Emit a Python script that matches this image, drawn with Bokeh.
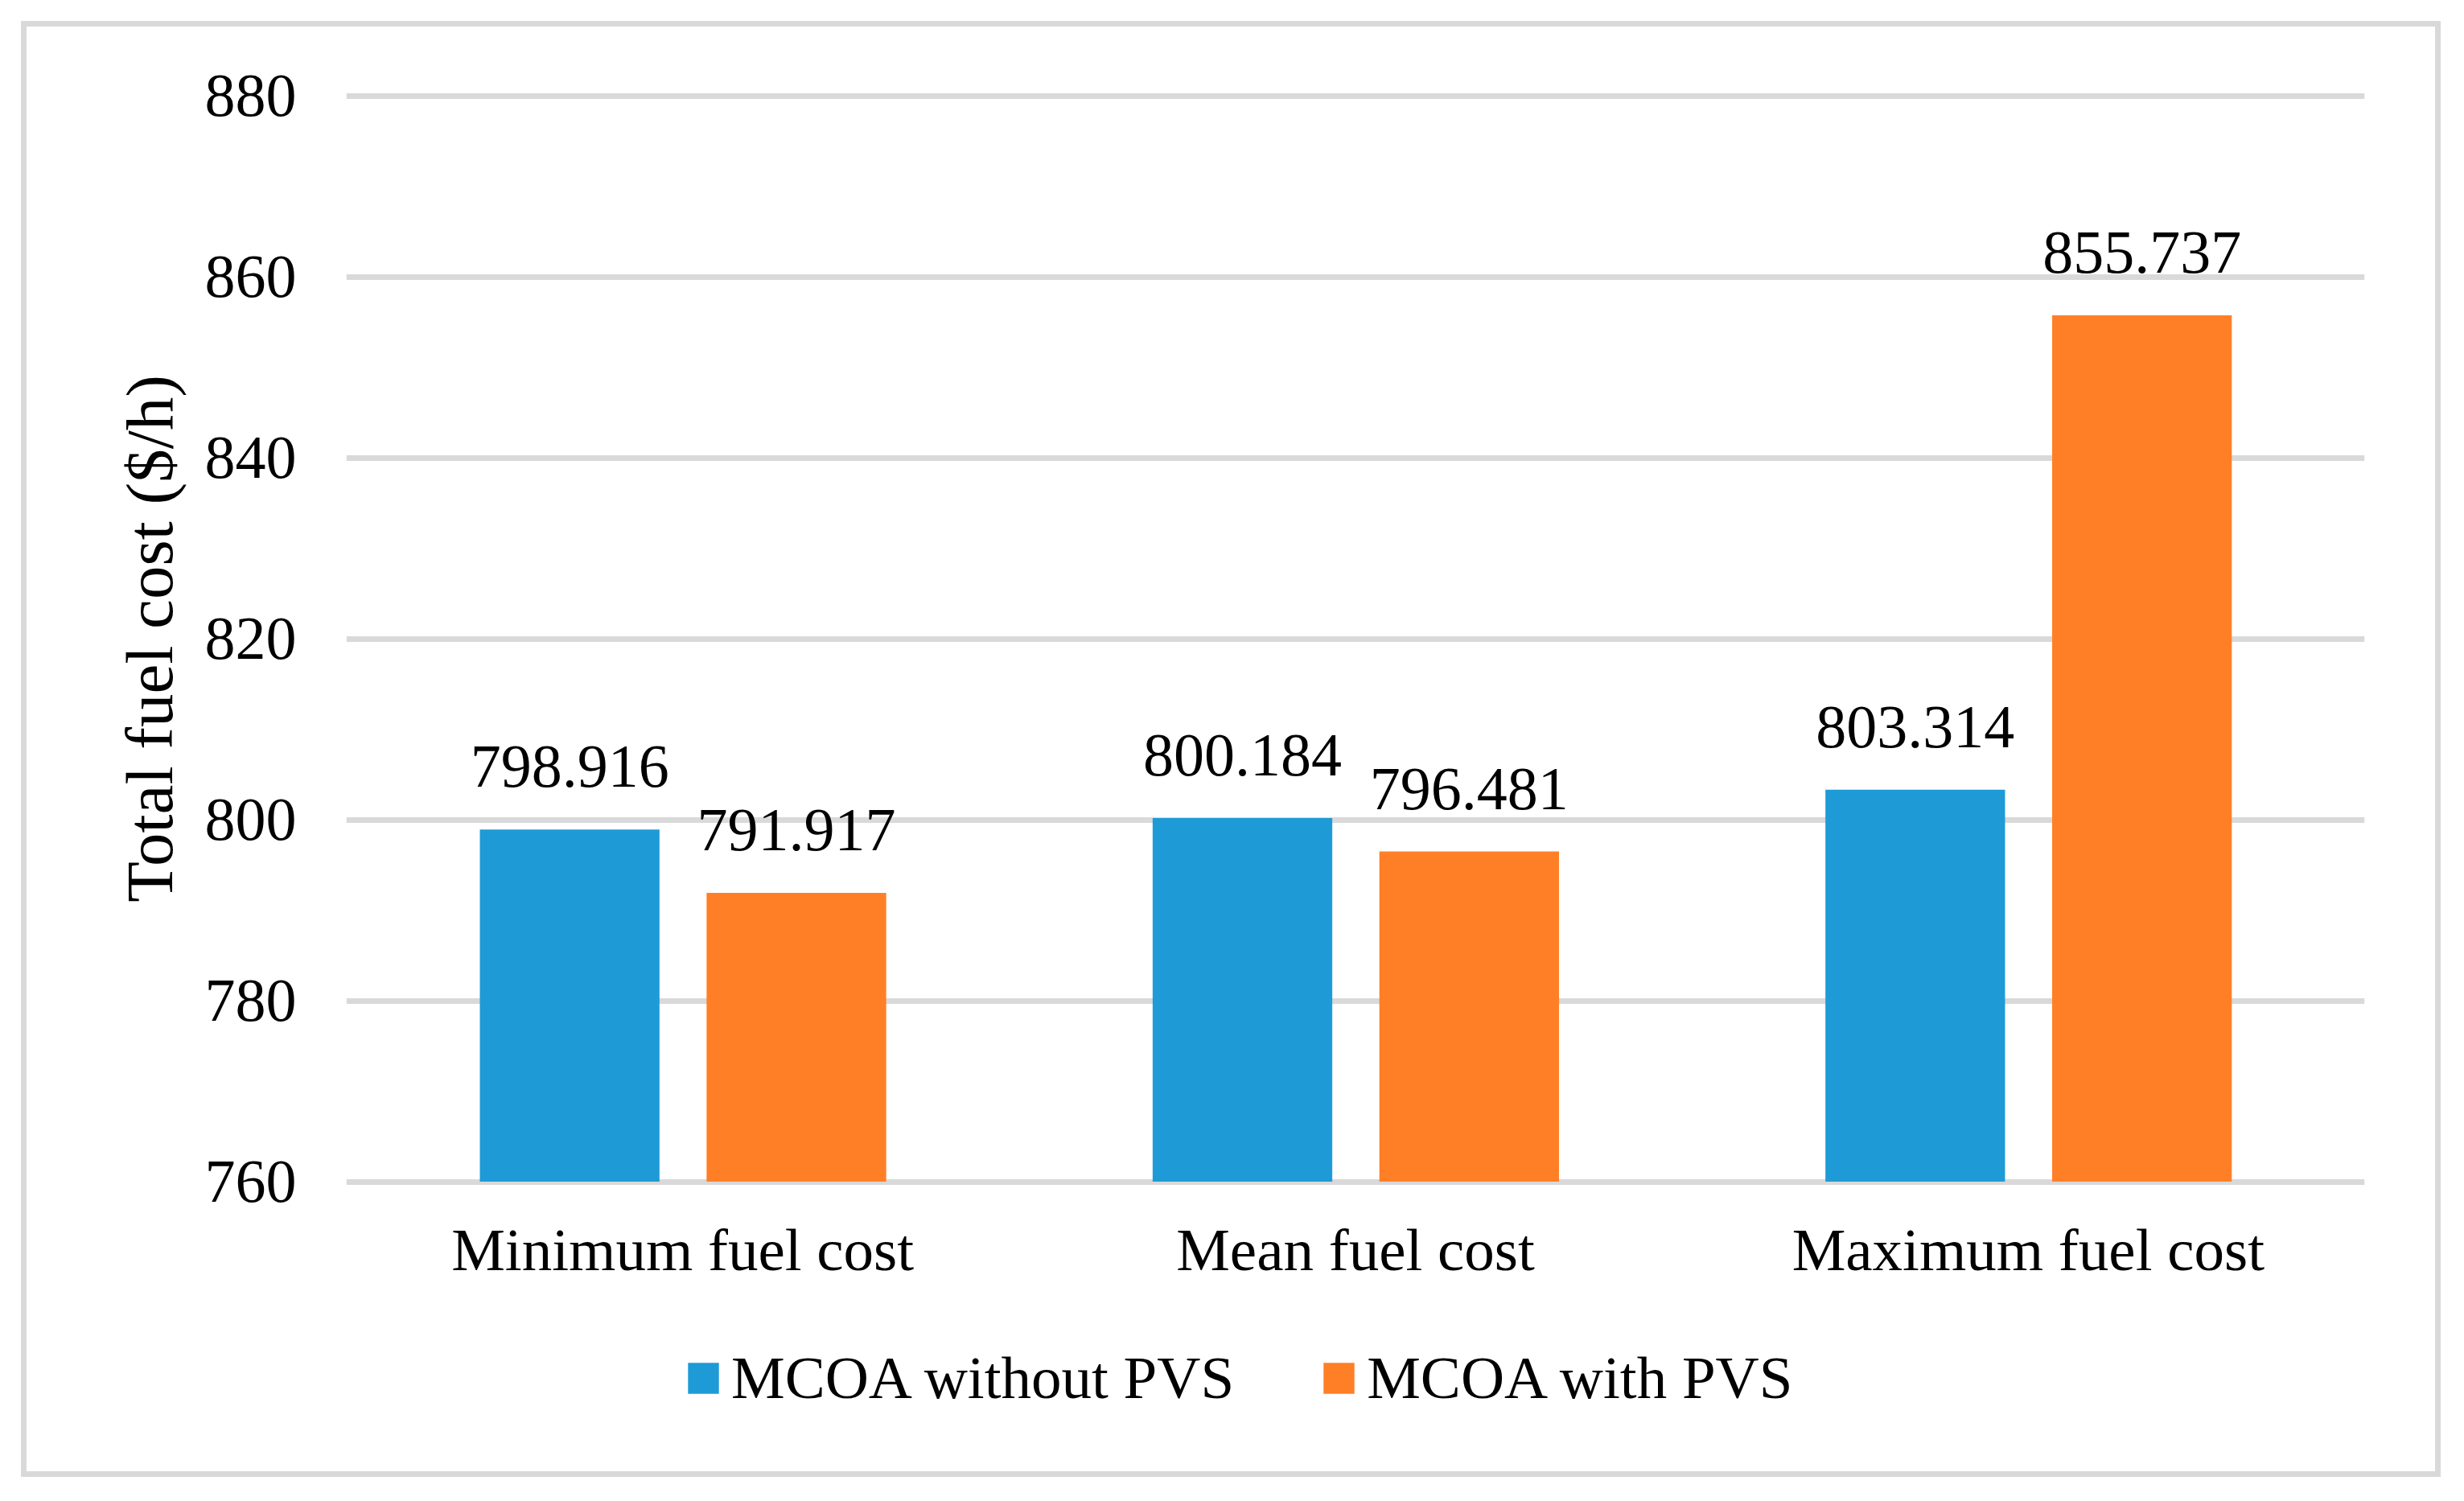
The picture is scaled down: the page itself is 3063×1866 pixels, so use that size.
from bokeh.plotting import figure
from bokeh.layouts import column
from bokeh.models import (ColumnDataSource, FactorRange, Range1d, FixedTicker,
                          Legend, LegendItem)
from bokeh.transform import dodge
from bokeh.core.properties import value
from bokeh.embed import file_html
from bokeh.resources import INLINE

categories = ["Minimum fuel cost", "Mean fuel cost", "Maximum fuel cost"]
without_pvs = [798.916, 800.184, 803.314]
with_pvs = [791.917, 796.481, 855.737]
series_names = ["MCOA without PVS", "MCOA with PVS"]
y_ticks = [760, 780, 800, 820, 840, 860, 880]

FONT = "Liberation Serif"
FS = "76px"
BLUE = "#1E9BD7"
ORANGE = "#FF7F27"
GRID = "#D9D9D9"
W = 3060

src = ColumnDataSource(dict(
    cat=categories,
    a=without_pvs,
    b=with_pvs,
    a_lbl=[f"{v:.3f}" for v in without_pvs],
    b_lbl=[f"{v:.3f}" for v in with_pvs],
))

# ---- main chart ----
p = figure(x_range=FactorRange(*categories), y_range=Range1d(759.6, 880.4),
           width=W, height=1640, output_backend="svg", toolbar_location=None,
           min_border_left=430, min_border_right=121, min_border_top=114,
           min_border_bottom=167)
p.border_fill_alpha = 0

p.vbar(x=dodge("cat", -0.168, range=p.x_range), top="a", bottom=760,
       width=0.267, fill_color=BLUE, line_color=None, source=src)
p.vbar(x=dodge("cat", 0.169, range=p.x_range), top="b", bottom=760,
       width=0.267, fill_color=ORANGE, line_color=None, source=src)

for xoff, col, lab in [(-0.168, "a", "a_lbl"), (0.169, "b", "b_lbl")]:
    p.text(x=dodge("cat", xoff, range=p.x_range), y=col, text=lab, source=src,
           text_align="center", text_baseline="alphabetic", y_offset=-78,
           text_font=value(FONT), text_font_size=FS, text_color="black")

p.yaxis.ticker = FixedTicker(ticks=y_ticks)
p.yaxis.axis_label = "Total fuel cost ($/h)"
for ax in (p.xaxis, p.yaxis):
    ax.axis_line_color = None
    ax.major_tick_line_color = None
    ax.minor_tick_line_color = None
    ax.major_label_text_font = FONT
    ax.major_label_text_color = "black"
p.yaxis.major_label_text_font_size = FS
p.xaxis.major_label_text_font_size = "75px"
p.yaxis.major_label_standoff = 56
p.yaxis.axis_label_text_font = FONT
p.yaxis.axis_label_text_font_size = "83px"
p.yaxis.axis_label_text_font_style = "normal"
p.yaxis.axis_label_text_color = "black"
p.yaxis.axis_label_standoff = 20
p.xaxis.major_label_standoff = 32

p.xgrid.grid_line_color = None
p.ygrid.grid_line_color = GRID
p.ygrid.grid_line_width = 7
p.outline_line_color = None

# ---- legend strip (zero-height proxies of the same series; only the legend shows) ----
p2 = figure(width=W, height=222, output_backend="svg", toolbar_location=None,
            x_range=FactorRange(*categories), y_range=Range1d(0, 1e7),
            x_axis_type=None, y_axis_type=None,
            min_border_left=0, min_border_right=0, min_border_top=0,
            min_border_bottom=0)
p2.border_fill_alpha = 0
p2.background_fill_alpha = 0
p2.outline_line_color = None
p2.grid.visible = False
l1 = p2.vbar(x=dodge("cat", -0.168, range=p2.x_range), top="a", bottom="a",
             width=0.267, fill_color=BLUE, line_color=None, source=src)
l2 = p2.vbar(x=dodge("cat", 0.169, range=p2.x_range), top="b", bottom="b",
             width=0.267, fill_color=ORANGE, line_color=None, source=src)

legend = Legend(items=[LegendItem(label=series_names[0], renderers=[l1]),
                       LegendItem(label=series_names[1], renderers=[l2])],
                orientation="horizontal", location=(420, 106),
                glyph_width=48, glyph_height=48, label_standoff=11, spacing=106,
                padding=0, margin=0, border_line_alpha=0, background_fill_alpha=0,
                label_text_font=FONT, label_text_font_size="75px",
                label_text_color="black")
p2.add_layout(legend, "center")

layout = column(p, p2)
layout.styles = {"box-shadow": "inset 0 0 0 26px #FFFFFF, inset 0 0 0 33px #D9D9D9"}

open("out.html", "w").write(file_html(layout, INLINE))
